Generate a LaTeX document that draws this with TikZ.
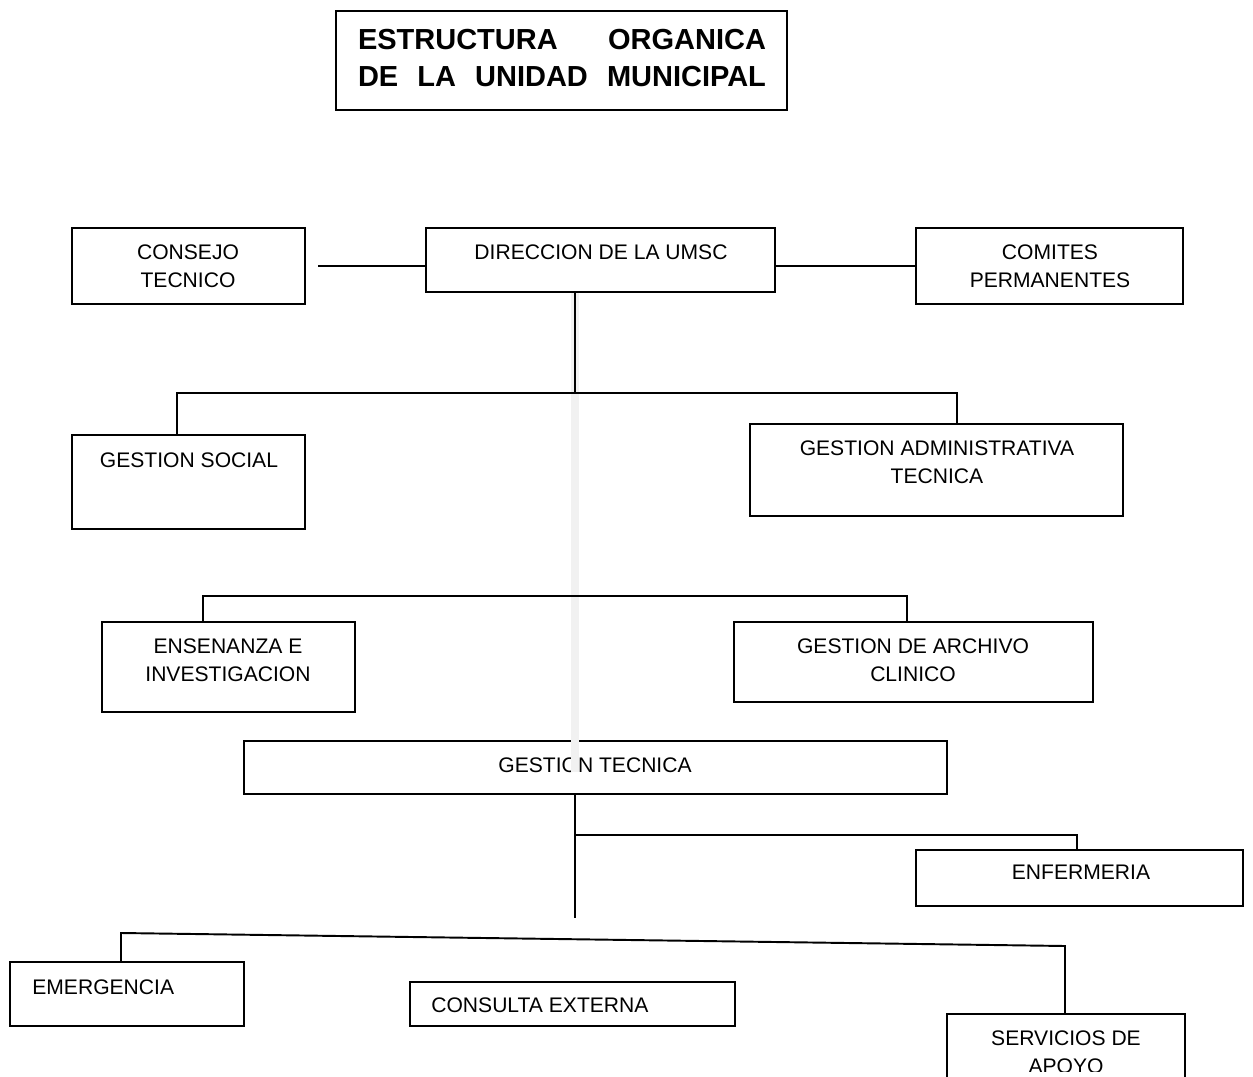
\documentclass[tikz,border=0pt]{standalone}
\usepackage{fontspec}
\setmainfont{Liberation Sans}
\usetikzlibrary{fit}
\definecolor{franja}{HTML}{F1F1F1}

\tikzset{
  caja/.style={draw, line width=1.1pt, inner sep=0pt},
  rotulo/.style={font=\fontsize{12}{15.9}\selectfont, align=center, inner sep=0pt},
  linea/.style={line width=1.1pt},
}

\begin{document}
\begin{tikzpicture}[x=0.02cm, y=-0.02cm]
        \useasboundingbox (0,0) rectangle (1253,1077);
        \clip (0,0) rectangle (1253,1077);

        % titulo
        \node[caja, line width=1.3pt, fit={(336,11) (787,110)}] (titulo) {};
        \node[inner sep=0pt, font=\fontsize{16.5}{20}\selectfont\bfseries] (titulo1) at (562,40)
            {\makebox[8.16cm][s]{ESTRUCTURA\hfill ORGANICA}};
        \node[inner sep=0pt, font=\fontsize{16.5}{20}\selectfont\bfseries] (titulo2) at (562,77)
            {\makebox[8.16cm][s]{DE\hfill LA\hfill UNIDAD\hfill MUNICIPAL}};

        % cajas
        \node[caja, fit={(72,228) (305,304)}] (consejo) {};
        \node[caja, fit={(426,228) (775,292)}] (dir) {};
        \node[caja, fit={(916,228) (1183,304)}] (comites) {};
        \node[caja, fit={(72,435) (305,529)}] (social) {};
        \node[caja, fit={(750,424) (1123,516)}] (admin) {};
        \node[caja, fit={(102,622) (355,712)}] (ensenanza) {};
        \node[caja, fit={(734,622) (1093,702)}] (archivo) {};
        \node[caja, fit={(244,741) (947,794)}] (tecnica) {};
        \node[caja, fit={(916,850) (1243,906)}] (enfermeria) {};
        \node[caja, fit={(10,962) (244,1026)}] (emergencia) {};
        \node[caja, fit={(410,982) (735,1026)}] (consulta) {};
        \node[caja, fit={(947,1014) (1185,1110)}] (servicios) {};

        % textos
        \node[rotulo] (tconsejo) at (188,266) {CONSEJO\\TECNICO};
        \node[rotulo] (tdir) at (601,252) {DIRECCION DE LA UMSC};
        \node[rotulo] (tcomites) at (1050,266) {COMITES\\PERMANENTES};
        \node[rotulo] (tsocial) at (189,460) {GESTION SOCIAL};
        \node[rotulo] (tadmin) at (937,462) {GESTION ADMINISTRATIVA\\TECNICA};
        \node[rotulo] (tensenanza) at (228,660) {ENSENANZA E\\INVESTIGACION};
        \node[rotulo] (tarchivo) at (913,660) {GESTION DE ARCHIVO\\CLINICO};
        \node[rotulo] (ttecnica) at (595,765) {GESTION TECNICA};
        \node[rotulo] (tenfermeria) at (1081,872) {ENFERMERIA};
        \node[rotulo, anchor=west] (temergencia) at (32,987) {EMERGENCIA};
        \node[rotulo, anchor=west] (tconsulta) at (431,1005) {CONSULTA EXTERNA};
        \begin{scope}
            \clip (947,1014) rectangle (1185,1071);
            \node[rotulo] (tservicios) at (1066,1052) {SERVICIOS DE\\APOYO};
        \end{scope}

        \draw[franja, line width=0.172cm] (575,293) -- (575,772);

        % conectores
        \coordinate (izq) at (318,266);
        \coordinate (tronco) at (575,393);
        \coordinate (r1) at (177,393);
        \coordinate (r2) at (957,393);
        \coordinate (s1) at (203,596);
        \coordinate (s2) at (907,596);
        \coordinate (t0) at (575,918);
        \coordinate (t1) at (575,835);
        \coordinate (e1) at (1077,835);
        \coordinate (u1) at (121,933);
        \coordinate (u2) at (1065,946);

        \draw[linea] (izq) -- (izq -| dir.west);
        \draw[linea] (dir.east |- izq) -- (comites.west |- izq);
        \draw[linea] (dir.south -| tronco) -- (tronco);
        \draw[linea] (social.north -| r1) -- (r1) -- (r2) -- (admin.north -| r2);
        \draw[linea] (ensenanza.north -| s1) -- (s1) -- (s2) -- (archivo.north -| s2);
        \draw[linea] (tecnica.south -| t0) -- (t0);
        \draw[linea] (t1) -| (enfermeria.north -| e1);
        \draw[linea] (emergencia.north -| u1) -- (u1) -- (u2) -- (servicios.north -| u2);

    \end{tikzpicture}
\end{document}
